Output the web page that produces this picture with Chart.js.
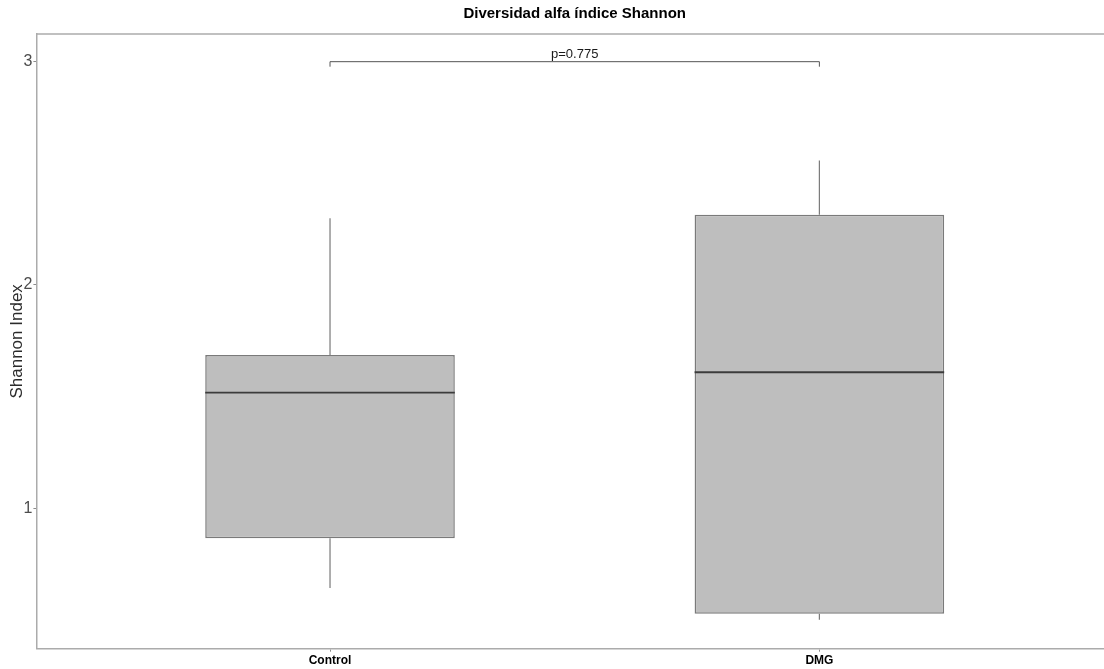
<!DOCTYPE html>
<html>
<head>
<meta charset="utf-8">
<title>Diversidad alfa índice Shannon</title>
<script src="https://cdn.jsdelivr.net/npm/chart.js@4.4.1/dist/chart.umd.min.js"></script>
<style>
  html, body { margin: 0; padding: 0; background: #ffffff; overflow: hidden; }
  #wrap { position: relative; width: 1113px; height: 669px; }
</style>
</head>
<body>
<div id="wrap"><canvas id="chart"></canvas></div>
<script>
// Shannon index summary per group (box plot statistics)
const categories = ['Control', 'DMG'];
const whiskerLow = [0.643, 0.501];
const q1 = [0.866, 0.528];
const median = [1.518, 1.609];
const q3 = [1.686, 2.315];
const whiskerHigh = [2.299, 2.558];
const yTicks = [1, 2, 3];
const bracketY = 3.0;
const pLabel = 'p=0.775';
const titleText = 'Diversidad alfa índice Shannon';

const FONT = '"Liberation Sans", Arial, Helvetica, sans-serif';
const PANEL_BORDER = '#ababab';

// whiskers, medians, panel top edge, significance bracket and title
const boxExtras = {
  id: 'boxExtras',
  beforeDatasetsDraw(chart) {
    const { ctx, scales: { x, y } } = chart;
    ctx.save();
    ctx.strokeStyle = '#7a7a7a';
    ctx.lineWidth = 1.2;
    categories.forEach((c, i) => {
      const px = x.getPixelForValue(i + 1);
      ctx.beginPath();
      ctx.moveTo(px, y.getPixelForValue(q3[i]));
      ctx.lineTo(px, y.getPixelForValue(whiskerHigh[i]));
      ctx.moveTo(px, y.getPixelForValue(q1[i]));
      ctx.lineTo(px, y.getPixelForValue(whiskerLow[i]));
      ctx.stroke();
    });
    ctx.restore();
  },
  afterDatasetsDraw(chart) {
    const { ctx, chartArea, scales: { x, y } } = chart;
    const meta = chart.getDatasetMeta(0);
    ctx.save();
    // medians span the full box width
    ctx.strokeStyle = '#3c3c3c';
    ctx.lineWidth = 1.8;
    meta.data.forEach((bar, i) => {
      const { x: bx, width } = bar.getProps(['x', 'width'], true);
      const py = y.getPixelForValue(median[i]);
      ctx.beginPath();
      ctx.moveTo(bx - width / 2, py);
      ctx.lineTo(bx + width / 2, py);
      ctx.stroke();
    });
    // top edge of the panel
    ctx.strokeStyle = PANEL_BORDER;
    ctx.lineWidth = 1.5;
    ctx.beginPath();
    ctx.moveTo(chartArea.left, chartArea.top);
    ctx.lineTo(chartArea.right, chartArea.top);
    ctx.stroke();
    // comparison bracket
    const x1 = x.getPixelForValue(1);
    const x2 = x.getPixelForValue(2);
    const by = y.getPixelForValue(bracketY);
    ctx.strokeStyle = '#555555';
    ctx.lineWidth = 1;
    ctx.beginPath();
    ctx.moveTo(x1, by + 5);
    ctx.lineTo(x1, by);
    ctx.lineTo(x2, by);
    ctx.lineTo(x2, by + 5);
    ctx.stroke();
    ctx.fillStyle = '#1a1a1a';
    ctx.font = '13px ' + FONT;
    ctx.textAlign = 'center';
    ctx.textBaseline = 'alphabetic';
    ctx.fillText(pLabel, (x1 + x2) / 2, by - 4);
    // chart title, centred on the panel
    ctx.fillStyle = '#000000';
    ctx.font = 'bold 15px ' + FONT;
    ctx.textBaseline = 'middle';
    ctx.fillText(titleText, (chartArea.left + chartArea.right) / 2, 14);
    ctx.restore();
  }
};

new Chart(document.getElementById('chart'), {
  type: 'bar',
  data: {
    datasets: [{
      data: categories.map((c, i) => ({ x: i + 1, y: [q1[i], q3[i]] })),
      backgroundColor: '#bebebe',
      borderColor: '#7a7a7a',
      borderWidth: 1.5,
      borderSkipped: false,
      categoryPercentage: 1,
      barPercentage: 0.51
    }]
  },
  options: {
    responsive: true,
    maintainAspectRatio: false,
    animation: false,
    layout: { padding: { top: 34, left: 0, right: 0, bottom: 0 } },
    plugins: {
      legend: { display: false },
      tooltip: { enabled: false },
      title: { display: false }
    },
    scales: {
      x: {
        type: 'linear',
        min: 0.4,
        max: 2.6,
        offset: false,
        afterBuildTicks: s => { s.ticks = categories.map((c, i) => ({ value: i + 1 })); },
        afterFit: s => { s.height = 20.3; },
        ticks: {
          callback: v => categories[Math.round(v) - 1],
          color: '#000000',
          font: { family: FONT, size: 12, weight: 'bold' },
          padding: 2,
          maxRotation: 0,
          autoSkip: false
        },
        grid: { drawOnChartArea: false, drawTicks: true, tickLength: 3, color: '#8c8c8c', offset: false },
        border: { display: true, color: PANEL_BORDER, width: 1.5 }
      },
      y: {
        type: 'linear',
        min: 0.371,
        max: 3.124,
        afterBuildTicks: s => { s.ticks = yTicks.map(v => ({ value: v })); },
        afterFit: s => { s.width = 36.4; },
        ticks: {
          color: '#4d4d4d',
          font: { family: FONT, size: 16 },
          padding: 1
        },
        grid: { drawOnChartArea: false, drawTicks: true, tickLength: 3, color: '#8c8c8c' },
        border: { display: true, color: PANEL_BORDER, width: 1.5 },
        title: {
          display: true,
          text: 'Shannon Index',
          color: '#2b2b2b',
          font: { family: FONT, size: 17 },
          padding: { top: 7, bottom: 0 }
        }
      }
    }
  },
  plugins: [boxExtras]
});
</script>
</body>
</html>
